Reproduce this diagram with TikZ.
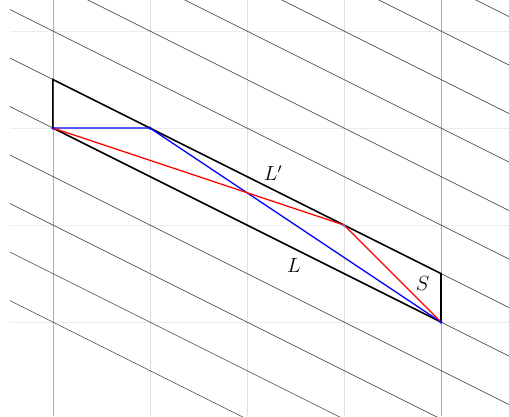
\documentclass[tikz,border=0pt]{standalone}
\begin{document}
\begin{tikzpicture}[x=2cm,y=2cm,
  gridh/.style={gray!15,line width=0.5pt},
  gridv/.style={gray!25,line width=0.5pt},
  gridvd/.style={gray!65,line width=0.5pt},
  slant/.style={black!70,line width=0.35pt},
  frame/.style={black,line width=0.9pt},
  bluel/.style={blue,line width=0.75pt},
  redl/.style={red,line width=0.75pt},
  lab/.style={font=\large},
  dot/.style={circle,inner sep=0pt,minimum size=2pt,fill=#1}]
\useasboundingbox (-0.546,-0.969) rectangle (4.701,3.320);
% grid
\foreach \y in {0,1,2,3} \draw[gridh] (-0.443,\y) -- (4.701,\y);
\foreach \x in {1,2,3} \draw[gridv] (\x,-0.969) -- (\x,3.320);
\foreach \x in {0,4} \draw[gridvd] (\x,-0.969) -- (\x,3.320);
% slanted lines
\begin{scope}
\clip (-0.443,-0.969) rectangle (4.701,3.320);
\foreach \c in {0,0.5,...,5.5} \draw[slant] (-0.6,\c+0.3) -- (12,\c-6);
\end{scope}
% points
\coordinate (A) at (0,2);
\coordinate (B) at (1,2);
\coordinate (C) at (3,1);
\coordinate (D) at (4,0);
\coordinate (E) at (0,2.5);
\coordinate (F) at (4,0.5);
% parallelogram
\draw[frame] (A) -- (E) -- (F) -- (D) -- cycle;
% blue and red
\draw[bluel] (A) -- (B) -- (D);
\draw[redl] (A) -- (C) -- (D);
\node[dot=blue] (pA) at (A) {};
\node[dot=blue] (pB) at (B) {};
\node[dot=blue!50!gray!80] (pC) at (C) {};
\node[dot=blue] (pD) at (D) {};
% labels
\node[lab] (lLp) at (2.27,1.535) {$L'$};
\node[lab] (lL) at (2.485,0.58) {$L$};
\node[lab] (lS) at (3.81,0.40) {$S$};
\end{tikzpicture}
\end{document}
